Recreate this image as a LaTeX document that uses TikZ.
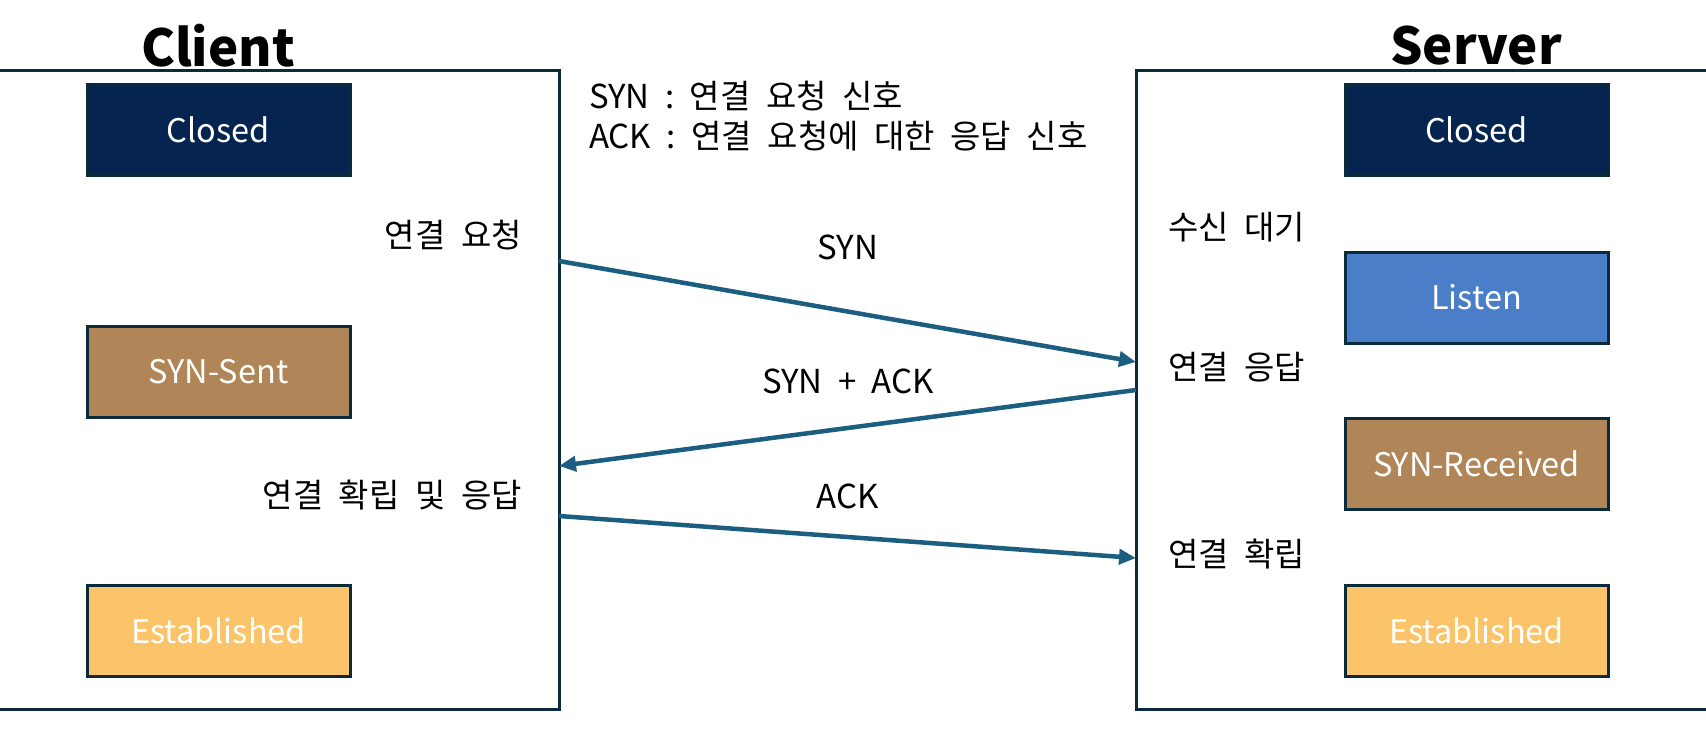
\documentclass[tikz,border=0pt]{standalone}
\usepackage{fontspec}
\setmainfont{Noto Sans CJK KR}[WordSpace=2.1]
\usetikzlibrary{arrows.meta}

\definecolor{frameline}{HTML}{0B2A3A}
\definecolor{closedfill}{HTML}{062450}
\definecolor{listenfill}{HTML}{4A7EC8}
\definecolor{synfill}{HTML}{B08658}
\definecolor{estfill}{HTML}{FBC46A}
\definecolor{msgline}{HTML}{1B5E80}

\begin{document}
\begin{tikzpicture}[x=1pt,y=-1pt,
  state/.style={draw=frameline,line width=3pt,minimum width=263pt,minimum height=91pt,
    text=white,font=\fontsize{32.5}{38}\selectfont,inner sep=0pt},
  side/.style={font=\fontsize{33}{38}\selectfont,inner sep=0pt},
  msg/.style={draw=msgline,line width=4.5pt,-{Triangle[length=17pt,width=15pt]}},
  title/.style={font=\fontsize{51}{58}\selectfont\bfseries,inner sep=0pt}]
  \useasboundingbox (0,0) rectangle (1706,737);
  \clip (0,0) rectangle (1706,737);

  % frames
  \draw[frameline,line width=3pt] (-10,70) rectangle (559,709);
  \draw[frameline,line width=3pt] (1136,70) rectangle (1720,709);
  \node[title] (client) at (218,46) {Client};
  \node[title] (server) at (1476,46) {Server};

  % client states
  \node[state,fill=closedfill] (cclosed) at (218.5,130) {Closed};
  \node[state,fill=synfill] (csent) at (218.5,371.5) {SYN-Sent};
  \node[state,fill=estfill] (cest) at (218.5,631) {Established};

  % server states
  \node[state,fill=closedfill] (sclosed) at (1476.5,130) {Closed};
  \node[state,fill=listenfill] (slisten) at (1476.5,297.5) {Listen};
  \node[state,fill=synfill] (srecv) at (1476.5,464) {SYN-Received};
  \node[state,fill=estfill] (sest) at (1476.5,631) {Established};

  % legend
  \node[side,anchor=west] (legsyn) at (589,96) {SYN : 연결 요청 신호};
  \node[side,anchor=west] (legack) at (589,136) {ACK : 연결 요청에 대한 응답 신호};

  % side texts
  \node[side,anchor=east] (creq) at (522,235) {연결 요청};
  \node[side,anchor=east] (cfix) at (522,495) {연결 확립 및 응답};
  \node[side,anchor=west] (swait) at (1168,227) {수신 대기};
  \node[side,anchor=west] (sresp) at (1168,367) {연결 응답};
  \node[side,anchor=west] (sfix) at (1168,554) {연결 확립};

  % messages
  \coordinate (c1) at (559,261);
  \coordinate (s1) at (1136,362);
  \coordinate (s2) at (1136,390);
  \coordinate (c2) at (559,466);
  \coordinate (c3) at (559,516);
  \coordinate (s3) at (1136,558);
  \draw[msg] (c1) -- (s1);
  \draw[msg] (s2) -- (c2);
  \draw[msg] (c3) -- (s3);
  \node[side] (lsyn) at (848,247) {SYN};
  \node[side] (lsynack) at (848,381) {SYN + ACK};
  \node[side] (lack) at (848,496) {ACK};
\end{tikzpicture}
\end{document}
